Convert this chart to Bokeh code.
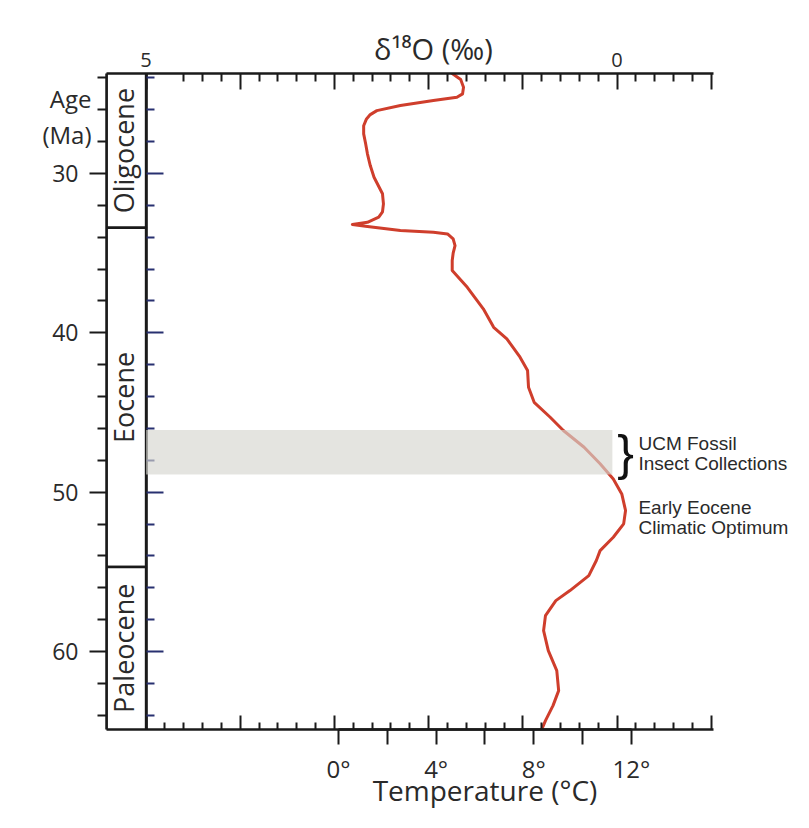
import math
from bokeh.plotting import figure
from bokeh.models import (Range1d, LinearAxis, FixedTicker, BoxAnnotation, Label,
                          ColumnDataSource, PrintfTickFormatter, Grid)
from bokeh.embed import file_html
from bokeh.resources import INLINE
from bokeh.core.properties import value

# ---------------- data ----------------
# deep-sea benthic d18O curve (per mil) versus age (Ma)
curve_age = [23.72, 24.10, 24.58, 25.00, 25.21, 25.42, 25.73, 26.05, 26.30, 26.57,
             27.00, 27.51, 28.10, 28.76, 29.50, 30.23, 31.27, 31.90, 32.40, 32.74,
             33.06, 33.20, 33.33, 33.58, 33.68, 33.79, 34.10, 34.52, 35.00, 35.46,
             36.09, 37.14, 38.49, 39.65, 40.38, 41.53, 42.37, 43.41, 44.36, 45.30,
             46.13, 47.18, 48.22, 49.17, 50.11, 51.15, 51.99, 52.83, 53.67, 54.29,
             55.24, 56.18, 56.81, 57.75, 58.69, 59.95, 61.20, 62.46, 63.40, 64.34,
             64.90]
curve_d18o = [1.75, 1.66, 1.63, 1.64, 1.70, 1.95, 2.30, 2.55, 2.62, 2.66,
              2.69, 2.69, 2.67, 2.65, 2.62, 2.58, 2.49, 2.48, 2.49, 2.53,
              2.65, 2.81, 2.65, 2.30, 1.95, 1.80, 1.74, 1.72, 1.74, 1.75,
              1.75, 1.59, 1.42, 1.31, 1.17, 1.03, 0.95, 0.94, 0.88, 0.71,
              0.57, 0.35, 0.18, 0.04, -0.05, -0.09, -0.07, 0.04, 0.18, 0.22,
              0.30, 0.50, 0.65, 0.76, 0.78, 0.73, 0.64, 0.62, 0.68, 0.76,
              0.80]

epochs = ["Oligocene", "Eocene", "Paleocene"]
epoch_start = [23.0, 33.4, 54.7]
epoch_end = [33.4, 54.7, 66.0]

age_major = [30, 40, 50, 60]
age_minor = [24, 26, 28, 32, 34, 36, 38, 42, 44, 46, 48, 52, 54, 56, 58, 62, 64]

d18o_major = [5, 4, 3, 2, 1, 0, -1]
d18o_labelled = [5, 0]
d18o_minor_bottom = [4.8, 4.6, 4.4, 4.2, 3.8, 3.6, 3.4, 3.2, 2.8, 2.6, 2.4, 2.2,
                     1.8, 1.6, 1.4, 1.2, 0.8, 0.6, 0.4, 0.2, -0.2, -0.4, -0.6, -0.8]
d18o_minor_top = d18o_minor_bottom[1:]

temp_major = [0, 4, 8, 12]
temp_minor = [2, 6, 10]

band_age = [46.1, 48.9]          # UCM fossil insect collections
band_d18o = [5.0, 0.05]

# ---------------- styling / geometry ----------------
FONT = "Open Sans"
TXT = "#2a2a2a"
RED = "#cf3e2c"
NAVY = "#283070"

W, H = 808, 826
FRAME_LEFT, FRAME_TOP, FRAME_BOTTOM = 106, 73, 729
PX_PER_D18O = 94.2
AXIS_SPAN = (-1.02, 5.42)                       # extent of the d18O axes
X_RANGE = (5.42, 5.42 - (W - FRAME_LEFT) / PX_PER_D18O)
AGE_RANGE = (64.9, 23.72)
TEMP_RANGE = (-9.50, -9.50 + (W - FRAME_LEFT) / 24.417)

p = figure(width=W, height=H,
           x_range=Range1d(*X_RANGE), y_range=Range1d(*AGE_RANGE),
           output_backend="svg", toolbar_location=None,
           x_axis_location=None, y_axis_location=None,
           min_border_left=FRAME_LEFT, min_border_right=0,
           min_border_top=FRAME_TOP, min_border_bottom=H - FRAME_BOTTOM,
           background_fill_color="white", border_fill_color="white")
p.outline_line_color = None
p.center = [r for r in p.center if not isinstance(r, Grid)]
p.extra_x_ranges = {"temp": Range1d(*TEMP_RANGE)}

def style_axis(ax):
    ax.axis_line_width = 2.5
    ax.axis_line_color = "#1a1a1a"
    ax.major_tick_line_width = 2
    ax.minor_tick_line_width = 2
    ax.major_tick_line_color = "#1a1a1a"
    ax.minor_tick_line_color = "#1a1a1a"
    ax.major_label_text_font = FONT
    ax.major_label_text_color = TXT

# top d18O axis
top = LinearAxis(ticker=FixedTicker(ticks=d18o_major, minor_ticks=d18o_minor_top),
                 bounds=AXIS_SPAN,
                 major_tick_in=16, major_tick_out=0, minor_tick_in=8, minor_tick_out=0,
                 major_label_standoff=7, major_label_text_font_size="20px",
                 major_label_overrides={t: "" for t in d18o_major if t not in d18o_labelled})
style_axis(top)
p.add_layout(top, "above")

# left age axis (black ticks outwards)
left = LinearAxis(ticker=FixedTicker(ticks=age_major, minor_ticks=age_minor),
                  major_tick_out=17, major_tick_in=0, minor_tick_out=9, minor_tick_in=0,
                  major_label_standoff=11, major_label_text_font_size="23px")
style_axis(left)
p.add_layout(left, "left")

# inner age axis at d18O = 5 (navy ticks inwards, no labels)
inner = LinearAxis(fixed_location=5.0,
                   ticker=FixedTicker(ticks=age_major, minor_ticks=age_minor),
                   major_tick_in=17, major_tick_out=0, minor_tick_in=8, minor_tick_out=0,
                   major_label_text_font_size="1px", major_label_standoff=0)
style_axis(inner)
inner.major_label_text_color = None
inner.major_tick_line_color = NAVY
inner.minor_tick_line_color = NAVY
p.add_layout(inner, "left")

# bottom d18O axis (ticks upwards, no labels)
bottom = LinearAxis(ticker=FixedTicker(ticks=d18o_major, minor_ticks=d18o_minor_bottom),
                    bounds=AXIS_SPAN,
                    major_tick_in=14, major_tick_out=0, minor_tick_in=7, minor_tick_out=0,
                    major_label_text_font_size="1px", major_label_standoff=5)
style_axis(bottom)
bottom.major_label_text_color = None
p.add_layout(bottom, "below")

# temperature axis
temp_axis = LinearAxis(x_range_name="temp",
                       ticker=FixedTicker(ticks=temp_major, minor_ticks=temp_minor),
                       bounds=(min(temp_major), max(temp_major)),
                       formatter=PrintfTickFormatter(format="%d°"),
                       major_tick_out=15, major_tick_in=0, minor_tick_out=15, minor_tick_in=0,
                       major_label_standoff=7, major_label_text_font_size="24px")
style_axis(temp_axis)
p.add_layout(temp_axis, "below")

# epoch column
top_vis, bot_vis = AGE_RANGE[1], AGE_RANGE[0]
centers = [(max(s, top_vis) + min(e, bot_vis)) / 2 for s, e in zip(epoch_start, epoch_end)]
esrc = ColumnDataSource(dict(name=epochs, start=epoch_start, end=epoch_end, mid=centers,
                             l=[AXIS_SPAN[1]] * 3, r=[5.0] * 3,
                             xc=[(AXIS_SPAN[1] + 5.0) / 2 + 0.03] * 3))
p.quad(left="l", right="r", top="start", bottom="end", source=esrc,
       fill_color="white", line_color="#1a1a1a", line_width=2.5)
p.text(x="xc", y="mid", text="name", source=esrc, angle=math.pi / 2,
       text_align="center", text_baseline="middle",
       text_font=value(FONT), text_font_size="27px", text_color=TXT)

# curve
p.line(curve_d18o, curve_age, line_color=RED, line_width=3,
       line_join="round", line_cap="round")

# highlighted band
p.add_layout(BoxAnnotation(left=band_d18o[0], right=band_d18o[1],
                           top=band_age[0], bottom=band_age[1],
                           fill_color="#d5d6cf", fill_alpha=0.65, line_alpha=0,
                           level="overlay"))

# texts
def lab(place, x, y, text, size, align="left", font=FONT, color=TXT, **kw):
    lbl = Label(x=x, y=y, text=text, text_font=font, text_font_size=size,
                text_align=align, text_baseline="middle", text_color=color, **kw)
    if place == "center":
        p.add_layout(lbl)
    else:
        p.add_layout(lbl, place)

lab("above", 1.95, 22.15, "δ¹⁸O (‰)", "29px", "center")
lab("left", 5.579, 26.42, "Age\n(Ma)", "24px", "right", text_line_height=1.07)
lab("below", 6.0, 68.72, "Temperature (°C)", "28px", "center", x_range_name="temp")
lab("center", -0.09, 47.55, "}", "50px", "center", font="Liberation Sans", color="#111111")
lab("center", -0.227, 46.95, "UCM Fossil", "19px", font="Liberation Sans")
lab("center", -0.227, 48.20, "Insect Collections", "19px", font="Liberation Sans")
lab("center", -0.227, 50.97, "Early Eocene", "19px", font="Liberation Sans")
lab("center", -0.227, 52.22, "Climatic Optimum", "19px", font="Liberation Sans")

open("out.html", "w").write(file_html(p, INLINE))
